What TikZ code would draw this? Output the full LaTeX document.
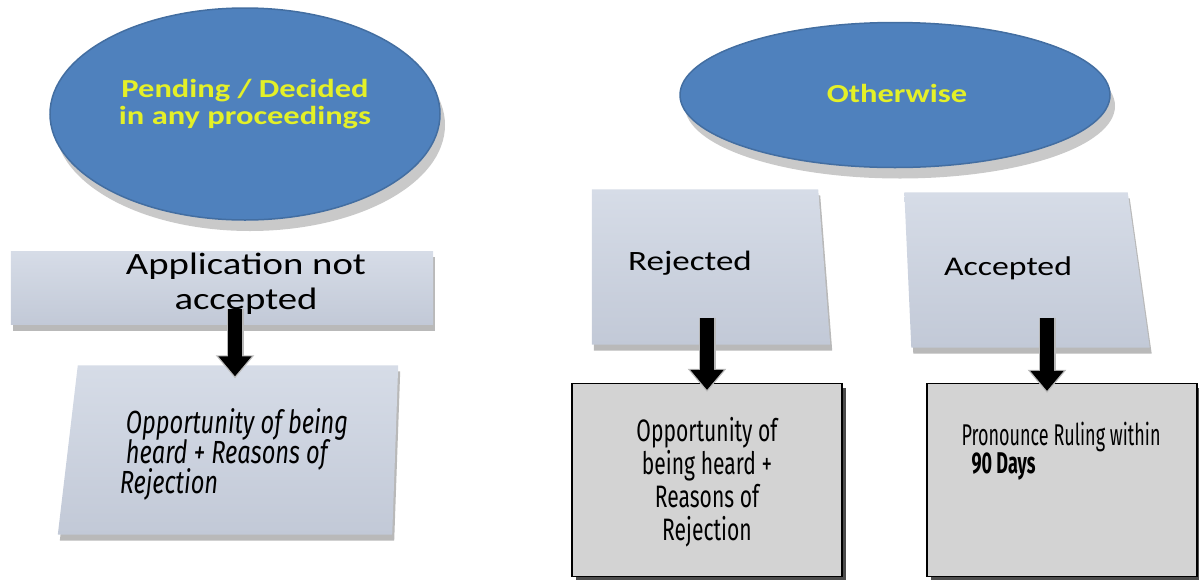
\documentclass[tikz,border=0pt]{standalone}
\usepackage{fontspec}
\usetikzlibrary{shapes.geometric,arrows.meta,shadows,backgrounds,positioning}

\newfontfamily\calib[FakeStretch=1.25]{Carlito}
\newfontfamily\agency[FakeStretch=0.68]{Fira Sans}
\newfontfamily\agencywide[FakeStretch=0.74]{Fira Sans}
\newfontfamily\agencynarrow[FakeStretch=0.6]{Fira Sans}
\newcommand\tightlines{\lineskiplimit=-20pt\relax}

\definecolor{capblue}{RGB}{79,129,189}
\definecolor{capyellow}{RGB}{228,240,40}
\definecolor{slabtop}{RGB}{214,220,231}
\definecolor{slabbottom}{RGB}{194,201,215}
\definecolor{notegray}{RGB}{211,211,211}

\begin{document}
\begin{tikzpicture}[x=1pt,y=-1pt,
    oval/.style={ellipse, fill=capblue, draw=capblue!85!black, line width=1.5pt,
      drop shadow={shadow xshift=5pt, shadow yshift=-11pt, fill=gray!60, opacity=.7}},
    ovaltext/.style={text=capyellow, font=\calib\bfseries\fontsize{26}{27}\selectfont, align=center},
    slab/.style={rectangle, inner sep=0pt},
    slabfill/.style={top color=slabtop, bottom color=slabbottom,
      preaction={fill=gray!55, transform canvas={xshift=2pt,yshift=-6pt}}},
    slabtext/.style={font=\calib\fontsize{28}{35}\selectfont, align=center},
    note/.style={rectangle, draw=black, line width=1.2pt, fill=notegray, inner sep=0pt,
      drop shadow={shadow xshift=4pt, shadow yshift=-4pt, fill=gray!60!black, opacity=1}},
    notetext/.style={font=\agency\fontsize{31}{33}\selectfont\tightlines},
    blockarrow/.style={line width=14pt, -{Triangle[width=32pt,length=20pt]},
      preaction={draw=gray!55, line width=17pt, -{Triangle[width=37pt,length=23pt]}, shorten >=-2pt}},
  ]
  \useasboundingbox (0,0) rectangle (1199,579);

  % the two cases
  \node[oval, minimum width=390pt, minimum height=212pt] (pend) at (245,114) {};
  \node[ovaltext] (pendtext) at ([yshift=10pt]pend.center) {Pending / Decided\\in any proceedings};
  \node[oval, minimum width=430pt, minimum height=145pt] (othw) at (895,95) {};
  \node[ovaltext] (othwtext) at ([xshift=2pt,yshift=2pt]othw.center) {Otherwise};

  % slabs
  \node[slab, minimum width=422pt, minimum height=73pt] (app) at (222,288) {};
  \node[slab, minimum width=340pt, minimum height=169pt] (appnote) at (228,450) {};
  \node[slab, minimum width=238pt, minimum height=155pt] (rej) at (711,267) {};
  \node[slab, minimum width=245pt, minimum height=155pt] (acc) at (1027,270) {};

  \begin{scope}[on background layer]
    \path[slabfill] (app.north west) -- (app.north east) -- (app.south east) -- (app.south west) -- cycle;
    \path[slabfill] ([xshift=20pt]appnote.north west) -- (appnote.north east)
      -- ([xshift=-6pt]appnote.south east) -- (appnote.south west) -- cycle;
    \path[slabfill] (rej.north west) -- ([xshift=-12pt]rej.north east) -- (rej.south east) -- (rej.south west) -- cycle;
    \path[slabfill] (acc.north west) -- ([xshift=-22pt]acc.north east)
      -- (acc.south east) -- ([xshift=7pt]acc.south west) -- cycle;
  \end{scope}

  \node[slabtext, font=\calib\fontsize{31}{35}\selectfont] (apptext) at ([xshift=24pt,yshift=4pt]app.center) {Application not\\accepted};
  \node[slabtext, font=\agencywide\itshape\fontsize{32}{30}\selectfont\tightlines, align=left] (appnotetext)
    at ([xshift=6pt,yshift=-4pt]appnote.center) {\ Opportunity of being\\\ heard + Reasons of\\Rejection};
  \node[slabtext] (rejtext) at ([xshift=-21pt,yshift=4pt]rej.center) {Rejected};
  \node[slabtext, font=\calib\fontsize{27}{35}\selectfont] (acctext) at ([xshift=-19pt,yshift=2pt]acc.center) {Accepted};

  % outcome boxes
  \node[note, minimum width=270pt, minimum height=193pt] (rejnote) at (707,480) {};
  \node[note, minimum width=270pt, minimum height=193pt] (accnote) at (1062,480) {};
  \node[notetext, align=center] (rejnotetext) at ([yshift=-2pt]rejnote.center)
    {Opportunity of\\being heard +\\Reasons of\\Rejection};
  \node[notetext, align=left, anchor=north west, inner sep=0pt, font=\agencynarrow\fontsize{30}{28}\selectfont\tightlines] (accnotetext)
    at ([xshift=35pt,yshift=-39pt]accnote.north west) {Pronounce Ruling within\\\hspace*{10pt}\textbf{90 Days}};

  % arrows
  \draw[blockarrow] ([xshift=13pt,yshift=16pt]app.south) -- ([xshift=7pt,yshift=-11pt]appnote.north);
  \draw[blockarrow] ([xshift=-4pt,yshift=27pt]rej.south) -- ([yshift=-7pt]rejnote.north);
  \draw[blockarrow] ([xshift=20pt,yshift=30pt]acc.south) -- ([xshift=-15pt,yshift=-8pt]accnote.north);
\end{tikzpicture}
\end{document}
